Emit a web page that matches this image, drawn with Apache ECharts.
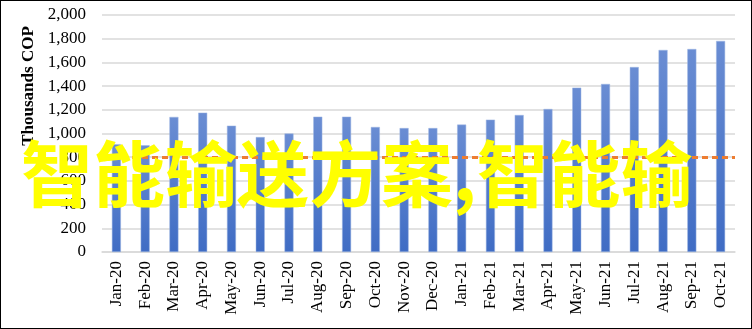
<!DOCTYPE html>
<html><head><meta charset="utf-8">
<script src="https://cdn.jsdelivr.net/npm/echarts@6/dist/echarts.min.js"></script>
<style>html,body{margin:0;padding:0;background:#fff}#c{width:752px;height:329px;box-sizing:border-box;border:1.5px solid #000}</style>
</head><body><div id="c"></div>
<script>
const categories = ["Jan-20","Feb-20","Mar-20","Apr-20","May-20","Jun-20","Jul-20","Aug-20","Sep-20","Oct-20","Nov-20","Dec-20","Jan-21","Feb-21","Mar-21","Apr-21","May-21","Jun-21","Jul-21","Aug-21","Sep-21","Oct-21"];
const values = [910,900,1140,1176,1066,970,1000,1142,1142,1055,1046,1046,1075,1117,1156,1207,1387,1418,1561,1705,1713,1781];
const referenceValue = 800;
const yAxisTitle = "Thousands COP";
const watermark = "智能输送方案,智能输";

const chart = echarts.init(document.getElementById('c'));
chart.setOption({
  animation: false,
  grid: {left: 101, right: 16, top: 14, bottom: 76},
  xAxis: {
    type: 'category', data: categories,
    axisLine: {lineStyle: {color: '#D9D9D9', width: 1.5}},
    axisTick: {show: false},
    axisLabel: {rotate: 90, color: '#000', fontFamily: 'Liberation Serif', fontSize: 17, margin: 9, interval: 0}
  },
  yAxis: {
    type: 'value', min: 0, max: 2000, interval: 200,
    axisLine: {show: false}, axisTick: {show: false},
    splitLine: {lineStyle: {color: '#D9D9D9', width: 1.5}},
    axisLabel: {color: '#000', fontFamily: 'Liberation Serif', fontSize: 17, margin: 16,
      formatter: v => v.toLocaleString('en-US')}
  },
  series: [{
    type: 'bar', data: values, barWidth: 9,
    itemStyle: {color: new echarts.graphic.LinearGradient(0,0,0,1,[{offset:0,color:'#6A8DD3'},{offset:1,color:'#3F6CC4'}]), borderColor: '#9FB6E3', borderWidth: 0.5},
    markLine: {
      silent: true, symbol: 'none', label: {show: false},
      lineStyle: {color: '#ED7D31', width: 3, type: [6, 4]},
      data: [{yAxis: referenceValue}]
    }
  }],
  graphic: [
    {type: 'text', x: 28, y: 85, rotation: Math.PI/2,
     style: {text: yAxisTitle, font: 'bold 17px "Liberation Serif"', fill: '#000', align: 'center', verticalAlign: 'middle'}},
    {type: 'text', left: 20, top: 137, z: 100,
     style: {text: watermark, font: 'bold 72px "Noto Sans CJK SC"', fill: '#FFFF00'}}
  ]
});
</script></body></html>
